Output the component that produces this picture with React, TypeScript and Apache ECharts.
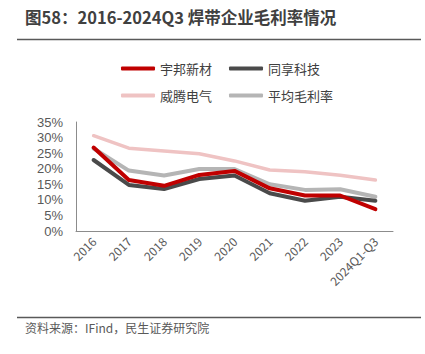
import React, { useEffect, useRef } from "react";
import * as echarts from "echarts";

const categories = ["2016", "2017", "2018", "2019", "2020", "2021", "2022", "2023", "2024Q1-Q3"];
const yubang = [26.8, 16.4, 14.5, 18.0, 19.3, 13.7, 11.4, 11.4, 7.0];
const tongxiang = [22.8, 14.8, 13.5, 16.7, 17.8, 12.1, 9.7, 11.0, 9.7];
const weiteng = [30.6, 26.6, 25.7, 24.8, 22.5, 19.6, 19.0, 17.9, 16.4];
const average = [26.5, 19.4, 17.8, 19.9, 19.9, 15.0, 13.2, 13.4, 11.0];

const FONT = "'Noto Sans CJK SC', 'Noto Sans', sans-serif";

export default function App() {
  const ref = useRef<HTMLDivElement>(null);
  useEffect(() => {
    const chart = echarts.init(ref.current!, null, { renderer: "svg" });
    const mk = (name: string, data: number[], color: string, width: number, z: number) => ({
      name,
      type: "line",
      data,
      symbol: "none",
      z,
      lineStyle: { color, width, cap: "round", join: "round" },
      itemStyle: { color },
    });
    const legendCommon = {
      itemWidth: 34,
      itemHeight: 4,
      itemGap: 17,
      icon: "roundRect",
      textStyle: { fontSize: 13, color: "#404040", fontFamily: FONT },
    };
    chart.setOption({
      animation: false,
      textStyle: { fontFamily: FONT },
      legend: [
        { ...legendCommon, left: 116, top: 57, data: ["宇邦新材", "同享科技"] },
        { ...legendCommon, left: 116, top: 84, data: ["威腾电气", "平均毛利率"] },
      ],
      grid: { left: 76, right: 32, top: 122, bottom: 123 },
      xAxis: {
        type: "category",
        data: categories,
        boundaryGap: true,
        axisLine: { lineStyle: { color: "#8c8c8c", width: 1 } },
        axisTick: { show: false },
        axisLabel: { rotate: 45, fontSize: 12, color: "#595959", interval: 0, margin: 8 },
      },
      yAxis: {
        type: "value",
        min: 0,
        max: 35,
        interval: 5,
        splitLine: { show: false },
        axisLine: { show: true, lineStyle: { color: "#8c8c8c", width: 1 } },
        axisTick: { show: false },
        axisLabel: {
          formatter: "{value}%",
          fontSize: 13,
          lineHeight: 13,
          fontFamily: "'Liberation Sans', Arial, sans-serif",
          color: "#595959",
          margin: 13,
        },
      },
      series: [
        mk("威腾电气", weiteng, "#EFC3C3", 3.5, 1),
        mk("平均毛利率", average, "#B5B5B5", 4, 2),
        mk("同享科技", tongxiang, "#4A4A4A", 4, 3),
        mk("宇邦新材", yubang, "#C00000", 4, 4),
      ],
      graphic: [
        {
          type: "text",
          left: 25,
          top: 9,
          style: {
            text: "图58：2016-2024Q3 焊带企业毛利率情况",
            font: `bold 16.5px ${FONT}`,
            fill: "#404040",
          },
        },
        { type: "line", shape: { x1: 17, y1: 39.5, x2: 421, y2: 39.5 }, style: { stroke: "#595959", lineWidth: 1.5 } },
        { type: "line", shape: { x1: 17, y1: 317.5, x2: 421, y2: 317.5 }, style: { stroke: "#595959", lineWidth: 1.5 } },
        {
          type: "text",
          left: 25,
          top: 321,
          style: { text: "资料来源：IFind，民生证券研究院", font: `12px ${FONT}`, fill: "#595959" },
        },
      ],
    });
    return () => chart.dispose();
  }, []);
  return <div ref={ref} style={{ width: 425, height: 354, position: "absolute", left: 0, top: 0 }} />;
}
